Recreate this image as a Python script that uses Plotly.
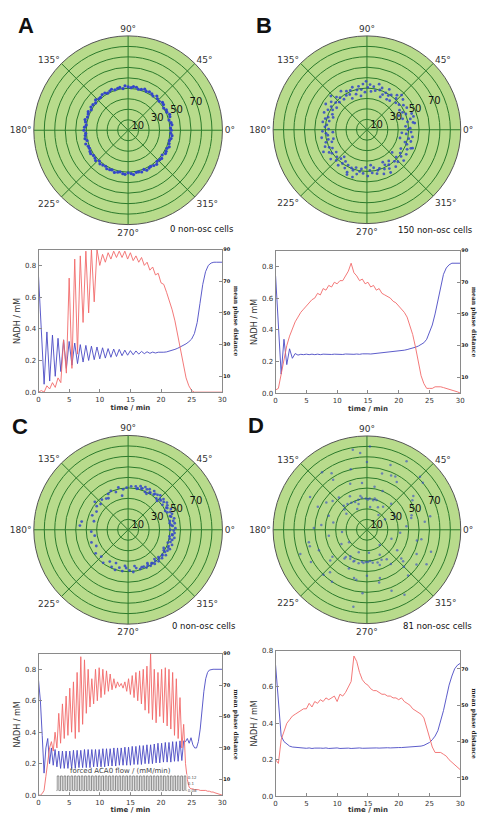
import numpy as np
import plotly.graph_objects as go

W, H = 486, 814

# ---------------- polar data (phase angle in degrees, radius) ----------------
A_theta = [0, 3, 7, 10, 14, 18, 21, 25, 28, 32, 36, 39, 43, 47, 50, 54, 57, 61, 65, 68,
           72, 76, 79, 83, 86, 90, 94, 97, 101, 104, 108, 112, 115, 119, 122, 126, 130, 133, 137, 140,
           144, 148, 151, 155, 158, 162, 166, 169, 173, 176, 180, 184, 187, 191, 194, 198, 202, 205, 209, 212,
           216, 220, 223, 227, 230, 234, 238, 241, 245, 248, 252, 256, 259, 263, 266, 270, 274, 277, 281, 284,
           288, 292, 295, 299, 302, 306, 310, 313, 317, 320, 324, 328, 331, 335, 338, 342, 346, 349, 353, 356]
A_r = [41.2, 40.5, 42.1, 41.6, 40.2, 41.9, 42.4, 40.8, 41.3, 40.0,
       41.7, 42.2, 40.6, 41.1, 42.6, 40.4, 41.5, 41.9, 40.9, 42.3,
       41.0, 40.3, 41.8, 42.0, 40.7, 41.4, 42.5, 40.1, 41.6, 41.2,
       40.6, 42.2, 41.3, 40.4, 41.9, 42.1, 40.9, 41.0, 42.4, 40.5,
       41.5, 41.8, 40.2, 42.0, 41.1, 40.8, 42.3, 41.4, 40.3, 41.7,
       42.2, 40.6, 41.2, 41.9, 40.4, 42.5, 41.0, 40.7, 41.6, 42.1,
       40.9, 41.3, 42.4, 40.2, 41.8, 41.1, 40.5, 42.0, 41.5, 40.8,
       42.3, 41.2, 40.4, 41.7, 42.2, 40.6, 41.4, 42.6, 40.9, 41.0,
       41.9, 40.3, 42.1, 41.3, 40.7, 41.6, 42.4, 40.5, 41.2, 41.8,
       40.2, 42.0, 41.5, 40.9, 42.3, 41.1, 40.6, 41.7, 42.2, 40.8]

B_theta = [2, 5, 9, 11, 14, 17, 20, 22, 26, 29,
           31, 34, 38, 40, 43, 47, 49, 52, 55, 58,
           61, 63, 66, 70, 72, 75, 78, 81, 84, 86,
           89, 93, 95, 98, 101, 104, 107, 109, 113, 116,
           118, 121, 124, 127, 130, 133, 135, 139, 142, 144,
           147, 150, 153, 156, 158, 162, 165, 167, 170, 173,
           176, 179, 182, 185, 188, 190, 194, 197, 199, 202,
           205, 208, 211, 214, 216, 219, 222, 225, 228, 231,
           234, 236, 240, 242, 245, 248, 251, 254, 257, 260,
           262, 265, 268, 271, 274, 277, 280, 283, 285, 288,
           291, 294, 297, 300, 302, 305, 308, 311, 314, 317,
           320, 322, 325, 328, 331, 334, 337, 340, 342, 345,
           348, 351, 354, 357, 0, 8, 24, 45, 68, 91,
           115, 137, 160, 184, 207, 230, 253, 276, 299, 318,
           338, 355, 16, 57, 100, 148, 195, 246, 296, 346]
B_r = [41.5, 37.2, 44.8, 39.6, 42.9, 35.8, 45.6, 40.3, 38.1, 43.7,
       36.5, 42.2, 39.0, 45.1, 37.8, 41.0, 43.9, 35.4, 40.7, 38.6,
       44.2, 39.8, 36.9, 42.6, 40.1, 45.3, 38.3, 41.8, 37.0, 43.4,
       40.6, 36.1, 44.0, 38.9, 42.4, 39.3, 35.7, 43.1, 40.9, 37.6,
       41.9, 38.4, 44.6, 36.6, 40.2, 42.8, 37.4, 39.7, 43.5, 35.9,
       40.8, 38.0, 42.0, 36.3, 44.3, 39.1, 41.4, 37.1, 43.0, 38.7,
       40.4, 36.8, 42.7, 39.4, 37.9, 44.1, 38.2, 41.2, 35.6, 43.3,
       39.9, 37.5, 42.3, 40.5, 36.4, 44.7, 38.8, 41.6, 37.3, 43.8,
       40.0, 36.7, 42.5, 38.5, 45.0, 39.5, 41.1, 37.7, 43.6, 40.6,
       38.0, 42.1, 36.2, 44.4, 39.2, 41.7, 37.0, 43.2, 40.3, 38.9,
       45.4, 41.3, 37.8, 43.0, 39.6, 36.5, 44.9, 40.1, 42.7, 38.4,
       46.0, 41.5, 39.0, 44.5, 37.2, 42.9, 45.7, 40.8, 38.3, 43.6,
       41.0, 44.2, 37.9, 42.4, 39.3, 46.3, 33.5, 47.0, 34.0, 46.5,
       33.2, 47.3, 34.5, 32.8, 46.8, 33.9, 47.5, 34.2, 46.9, 32.5,
       47.2, 33.6, 46.4, 34.8, 32.9, 46.6, 33.3, 47.1, 34.6, 32.7]

C_theta = [80, 77, 74, 71, 68, 65, 62, 59, 56, 53,
           50, 47, 44, 41, 38, 35, 32, 29, 26, 23,
           20, 17, 14, 11, 8, 5, 2, 359, 356, 353,
           350, 347, 344, 341, 338, 335, 332, 329, 326, 323,
           320, 317, 314, 311, 308, 305, 302, 299, 296, 293,
           78, 72, 66, 60, 54, 48, 42, 36, 30, 24,
           18, 12, 6, 0, 354, 348, 342, 336, 330, 324,
           318, 312, 306, 300, 63, 45, 27, 9, 351, 333,
           86, 92, 97, 103, 108, 114, 119, 125, 131, 137,
           143, 150, 158, 166, 175, 183, 190, 199, 207, 216,
           225, 233, 240, 246, 252, 257, 262, 267, 272, 277,
           282, 287, 290, 100, 122, 140, 250, 265, 280, 170]
C_r = [42.0, 40.5, 43.2, 41.8, 44.0, 42.6, 43.8, 41.2, 44.5, 42.9,
       43.6, 45.0, 42.3, 44.7, 43.1, 45.2, 44.1, 42.8, 45.4, 43.7,
       44.6, 42.9, 45.3, 43.8, 44.9, 42.7, 45.1, 43.5, 44.4, 42.6,
       44.8, 43.2, 42.0, 44.3, 41.6, 43.9, 42.5, 41.0, 43.4, 40.8,
       42.2, 40.4, 41.9, 39.6, 41.3, 39.0, 40.6, 38.7, 40.1, 38.2,
       40.0, 41.1, 39.5, 40.8, 41.6, 40.2, 41.9, 40.5, 42.1, 41.0,
       42.0, 40.7, 41.4, 40.1, 42.2, 40.6, 39.8, 41.7, 39.3, 40.4,
       38.9, 37.6, 39.4, 36.8, 38.5, 39.0, 39.7, 40.2, 39.9, 38.1,
       41.6, 40.2, 38.9, 41.4, 37.8, 40.6, 39.1, 36.4, 38.2, 35.9,
       37.5, 34.8, 36.9, 33.6, 46.2, 35.2, 32.4, 37.0, 34.1, 38.3,
       36.2, 39.5, 35.0, 38.7, 40.3, 37.1, 39.8, 36.5, 38.9, 40.6,
       37.4, 39.2, 38.0, 33.0, 35.5, 41.5, 33.8, 34.6, 35.2, 45.0]

D_theta = [5, 18, 33, 47, 62, 76, 88, 101, 117, 131,
           146, 160, 174, 189, 203, 218, 232, 247, 261, 276,
           290, 305, 319, 334, 348, 12, 40, 70, 95, 124,
           150, 196, 226, 255, 283, 312, 341, 25, 55, 82,
           108, 138, 168, 209, 238, 268, 297, 326, 355, 64,
           85, 92, 99, 106, 113, 120, 127, 134, 72, 78,
           240, 248, 256, 264, 272, 280, 288, 296, 304, 232,
           30, 52, 115, 142, 185, 215, 250, 275, 310, 340,
           88, 60, 45, 100, 128, 200, 260, 300, 330, 15,
           80, 96, 110, 68, 140, 220, 245, 270, 285, 320,
           36, 58, 75, 155, 178, 192, 229, 258, 315, 350,
           90, 105, 122, 66, 210, 236, 266, 292, 325, 8]
D_r = [38, 45, 52, 34, 58, 31, 29, 33, 36, 41,
       47, 39, 44, 37, 50, 42, 35, 33, 31, 30,
       36, 40, 46, 53, 49, 62, 70, 66, 74, 58,
       63, 57, 60, 48, 52, 59, 65, 30, 27, 22,
       26, 29, 33, 28, 30, 31, 27, 35, 32, 24,
       30, 30, 31, 30, 29, 30, 31, 32, 30, 29,
       32, 32, 33, 32, 31, 32, 33, 32, 34, 33,
       20, 18, 22, 25, 24, 21, 23, 22, 19, 25,
       80, 76, 72, 78, 70, 68, 75, 72, 66, 44,
       42, 45, 47, 40, 43, 46, 41, 44, 48, 43,
       55, 54, 56, 52, 51, 57, 54, 49, 50, 53,
       65, 60, 64, 57, 62, 60, 61, 63, 58, 56]

NON_OSC = ["0 non-osc cells", "150 non-osc cells", "0 non-osc cells", "81 non-osc cells"]
PANEL_LETTERS = ["A", "B", "C", "D"]

ANG_TICKS = [0, 45, 90, 135, 180, 225, 270, 315]
ANG_LABELS = ["0°", "45°", "90°", "135°", "180°", "225°", "270°", "315°"]
R_GRID = [10, 20, 30, 40, 50, 60, 70, 80]
R_LABEL_VALS = [10, 30, 50, 70]
R_LABEL_TEXT = ["10", "30", "50", "70"]
R_LABEL_ANGLE = 22.5

# ---------------- time series (samples evenly spread over 0..30 min) ----------------
A_nadh = [0.73, 0.35, 0.05, 0.38, 0.07, 0.36, 0.10, 0.34, 0.13, 0.33,
          0.15, 0.32, 0.17, 0.31, 0.18, 0.30, 0.19, 0.295, 0.20, 0.29,
          0.205, 0.285, 0.21, 0.28, 0.215, 0.275, 0.22, 0.272, 0.225, 0.27,
          0.23, 0.265, 0.233, 0.262, 0.236, 0.26, 0.24, 0.257, 0.243, 0.255,
          0.245, 0.253, 0.247, 0.252, 0.25, 0.252, 0.254, 0.258, 0.263, 0.27,
          0.277, 0.285, 0.295, 0.305, 0.318, 0.335, 0.37, 0.44, 0.56, 0.68,
          0.76, 0.80, 0.815, 0.82, 0.82, 0.82, 0.82]
A_dist = [0, 1, 0, 4, 2, 6, 3, 9, 6, 33,
          12, 72, 15, 84, 24, 86, 44, 89, 50, 90,
          57, 90, 80, 87, 82, 88, 84, 89, 85, 89,
          85, 89, 84, 88, 83, 86, 82, 85, 80, 82,
          77, 79, 74, 75, 69, 68, 63, 58, 52, 45,
          36, 27, 17, 9, 4, 1, 0, 0, 0, 0,
          0, 0, 0, 0, 0, 0, 0]

B_nadh = [0.74, 0.45, 0.12, 0.34, 0.18, 0.28, 0.22, 0.25, 0.24, 0.245,
          0.243, 0.246, 0.243, 0.246, 0.243, 0.246, 0.243, 0.246, 0.244, 0.246,
          0.244, 0.246, 0.244, 0.246, 0.244, 0.247, 0.245, 0.247, 0.245, 0.247,
          0.245, 0.248, 0.246, 0.248, 0.247, 0.249, 0.248, 0.25, 0.251, 0.253,
          0.255, 0.257, 0.259, 0.261, 0.265, 0.268, 0.271, 0.275, 0.279, 0.284,
          0.29, 0.297, 0.305, 0.318, 0.34, 0.38, 0.43, 0.50, 0.59, 0.66,
          0.75, 0.79, 0.81, 0.82, 0.82, 0.82, 0.82]
B_dist = [2, 3, 12, 22, 30, 36, 41, 45, 48, 51,
          53, 55, 57, 59, 60, 63, 62, 66, 65, 68,
          67, 70, 69, 71, 71, 74, 77, 82, 76, 74,
          71, 72, 69, 70, 67, 68, 65, 66, 63, 62,
          61, 60, 58, 57, 55, 53, 51, 48, 43, 37,
          29, 19, 11, 6, 3, 3, 3, 4, 4, 4,
          3.5, 3, 2.5, 2, 1.5, 0.8, 0]

C_nadh = [0.73, 0.60, 0.38, 0.14, 0.30, 0.36, 0.20, 0.30, 0.19, 0.29,
          0.18, 0.28, 0.17, 0.28, 0.17, 0.28, 0.17, 0.28, 0.17, 0.285,
          0.17, 0.285, 0.175, 0.285, 0.175, 0.29, 0.175, 0.29, 0.175, 0.29,
          0.18, 0.29, 0.18, 0.29, 0.18, 0.295, 0.18, 0.295, 0.185, 0.295,
          0.185, 0.30, 0.185, 0.30, 0.19, 0.30, 0.19, 0.305, 0.19, 0.305,
          0.19, 0.31, 0.195, 0.31, 0.195, 0.315, 0.195, 0.315, 0.20, 0.32,
          0.20, 0.32, 0.20, 0.325, 0.205, 0.33, 0.205, 0.33, 0.21, 0.335,
          0.21, 0.335, 0.21, 0.34, 0.215, 0.34, 0.215, 0.345, 0.22, 0.345,
          0.34, 0.36, 0.33, 0.365, 0.32, 0.30, 0.30, 0.34, 0.42, 0.55,
          0.66, 0.74, 0.78, 0.795, 0.80, 0.80, 0.80, 0.80, 0.80, 0.80,
          0.80]
C_dist = [0, 0, 1, 3, 12, 22, 30, 34, 28, 40,
          30, 52, 33, 58, 36, 63, 38, 68, 40, 72,
          36, 78, 40, 88, 45, 86, 52, 80, 56, 74,
          58, 80, 60, 81, 62, 80, 64, 79, 66, 77,
          67, 74, 68, 72, 69, 71, 68, 72, 66, 74,
          64, 76, 62, 78, 60, 79, 58, 80, 54, 82,
          52, 90, 48, 80, 46, 78, 50, 80, 46, 81,
          44, 80, 42, 78, 38, 74, 36, 62, 30, 45,
          20, 10, 5, 4, 4, 3.5, 3.5, 3.5, 3, 3,
          3, 3, 2.5, 2.5, 2, 2, 1.5, 1, 1, 0.5,
          0]
C_flow = [0.08, 0.125, 0.08, 0.125, 0.08, 0.125, 0.08, 0.125, 0.08, 0.125,
          0.08, 0.125, 0.08, 0.125, 0.08, 0.125, 0.08, 0.125, 0.08, 0.125,
          0.08, 0.125, 0.08, 0.125, 0.08, 0.125, 0.08, 0.125, 0.08, 0.125,
          0.08, 0.125, 0.08, 0.125, 0.08, 0.125, 0.08, 0.125, 0.08, 0.125,
          0.08, 0.125, 0.08, 0.125, 0.08, 0.125, 0.08, 0.125, 0.08, 0.125,
          0.08, 0.125, 0.08, 0.125, 0.08, 0.125, 0.08, 0.125, 0.08, 0.125,
          0.08, 0.125, 0.08, 0.125, 0.08, 0.125, 0.08, 0.125, 0.08, 0.125,
          0.08, 0.125, 0.08, 0.125, 0.08, 0.125, 0.08]
C_FLOW_START, C_FLOW_END = 2.9, 24.2
FLOW_TICKS = [0.08, 0.10, 0.12]
FLOW_LABELS = ["0.08", "0.1", "0.12"]

D_nadh = [0.72, 0.52, 0.33, 0.30, 0.285, 0.275, 0.27, 0.268, 0.266, 0.265,
          0.264, 0.263, 0.265, 0.262, 0.264, 0.262, 0.264, 0.263, 0.265, 0.262,
          0.264, 0.263, 0.265, 0.262, 0.264, 0.263, 0.264, 0.262, 0.264, 0.263,
          0.265, 0.263, 0.264, 0.263, 0.265, 0.264, 0.265, 0.264, 0.266, 0.265,
          0.266, 0.265, 0.267, 0.266, 0.267, 0.267, 0.268, 0.268, 0.269, 0.27,
          0.271, 0.273, 0.275, 0.279, 0.285, 0.295, 0.31, 0.33, 0.36, 0.41,
          0.47, 0.54, 0.61, 0.66, 0.70, 0.72, 0.73]
D_dist = [20, 18, 31, 36, 40, 42, 44, 45, 46, 47,
          48, 48, 51, 49, 52, 51, 53, 52, 54, 53,
          54, 55, 52, 56, 55, 57, 60, 63, 77, 74,
          68, 64, 62, 61, 59, 58, 58, 57, 56, 56,
          55, 55, 54, 54, 53, 54, 52, 51, 50, 48,
          47, 46, 45, 43, 38, 32, 27, 24, 24, 24,
          23, 22, 20, 18.5, 17, 15.5, 14.5]

X_TICKS = [0, 5, 10, 15, 20, 25, 30]
Y_TICKS = [0.0, 0.2, 0.4, 0.6, 0.8]
Y_LABELS = ["0.0", "0.2", "0.4", "0.6", "0.8"]
R9_TICKS = [10, 30, 50, 70, 90]
R8_TICKS = [10, 30, 50, 70]

# ---------------- styles ----------------
POLAR_BG = "#b8db8c"
GRID = "#2b7a2b"
PT_BLUE = "#3346c8"
LINE_BLUE = "#4a4ac4"
LINE_RED = "#f26a6a"
AX = "#8a8a8a"
TXT = "#333333"
FONT = "DejaVu Sans"


def px_x(x):
    return x / W


def px_y(y):
    return 1 - y / H


def sq_domain(cx, cy, r):
    return dict(x=[px_x(cx - r), px_x(cx + r)], y=[px_y(cy + r), px_y(cy - r)])


def polar_cfg(cx, cy, r):
    return dict(
        domain=sq_domain(cx, cy, r),
        bgcolor=POLAR_BG,
        angularaxis=dict(tickvals=ANG_TICKS, ticktext=ANG_LABELS, direction="counterclockwise",
                         rotation=0, showline=True, linecolor="#555", linewidth=1,
                         gridcolor=GRID, gridwidth=1, ticks="",
                         tickfont=dict(size=9, color=TXT, family=FONT)),
        radialaxis=dict(range=[0, 90], tickvals=R_GRID, showticklabels=False, angle=22.5,
                        showline=False, ticks="", gridcolor=GRID, gridwidth=1),
    )


fig = go.Figure()

polar_sets = [(A_theta, A_r, 3.2, 1.0), (B_theta, B_r, 2.8, 0.85), (C_theta, C_r, 2.8, 0.85), (D_theta, D_r, 2.5, 0.6)]
polar_names = ["polar", "polar2", "polar3", "polar4"]
for (th, rr, sz, op), nm in zip(polar_sets, polar_names):
    fig.add_trace(go.Scatterpolar(theta=th, r=rr, mode="markers", subplot=nm,
                                  marker=dict(size=sz, color=PT_BLUE, opacity=op, line=dict(width=0)),
                                  showlegend=False, hoverinfo="skip"))
    # radial tick labels, centred on the 22.5° direction (matplotlib style)
    fig.add_trace(go.Scatterpolar(theta=[R_LABEL_ANGLE] * len(R_LABEL_VALS), r=R_LABEL_VALS,
                                  mode="text", text=R_LABEL_TEXT, textposition="middle center",
                                  textfont=dict(size=10, color="#111", family=FONT), subplot=nm,
                                  showlegend=False, hoverinfo="skip"))

series = [(A_nadh, A_dist), (B_nadh, B_dist), (C_nadh, C_dist), (D_nadh, D_dist)]
for k, (nadh, dist) in enumerate(series):
    xa = "x" if k == 0 else f"x{k+1}"
    yl = "y" if k == 0 else f"y{2*k+1}"
    yr = f"y{2*k+2}"
    t = np.linspace(0, 30, len(nadh))
    t2 = np.linspace(0, 30, len(dist))
    fig.add_trace(go.Scatter(x=t2, y=dist, xaxis=xa, yaxis=yr, mode="lines",
                             line=dict(color=LINE_RED, width=0.9), showlegend=False, hoverinfo="skip"))
    fig.add_trace(go.Scatter(x=t, y=nadh, xaxis=xa, yaxis=yl, mode="lines",
                             line=dict(color=LINE_BLUE, width=0.9), showlegend=False, hoverinfo="skip"))

# forced flow inset in panel C
tf = np.linspace(C_FLOW_START, C_FLOW_END, len(C_flow))
fig.add_trace(go.Scatter(x=tf, y=C_flow, xaxis="x5", yaxis="y9", mode="lines", line_shape="hvh",
                         line=dict(color="#6e6e6e", width=0.8), showlegend=False, hoverinfo="skip"))

# ---------------- layout ----------------
layout = dict(width=W, height=H, margin=dict(l=0, r=0, t=0, b=0), paper_bgcolor="white",
              plot_bgcolor="white", font=dict(family=FONT, color=TXT), showlegend=False)

polar_geom = [(127.7, 127.5, 95.5), (369.5, 127.0, 95.0), (127.7, 531.0, 95.5), (369.5, 531.0, 95.0)]
for nm, (cx, cy, r) in zip(polar_names, polar_geom):
    layout[nm] = polar_cfg(cx, cy, r)

# plot boxes: (left, right, top, bottom) in px and right-axis max
boxes = [(37, 223, 248, 392, 0.9, 90, R9_TICKS),
         (277, 464, 249, 393, 0.9, 90, R9_TICKS),
         (37, 223, 656, 799, 0.9, 90, R9_TICKS),
         (277, 464, 653, 800, 0.8, 80, R8_TICKS)]
annotations = []
for k, (l, r, t, b, ymax, rmax, rticks) in enumerate(boxes):
    xn = "xaxis" if k == 0 else f"xaxis{k+1}"
    yln = "yaxis" if k == 0 else f"yaxis{2*k+1}"
    yrn = f"yaxis{2*k+2}"
    yl_id = "y" if k == 0 else f"y{2*k+1}"
    x_id = "x" if k == 0 else f"x{k+1}"
    layout[xn] = dict(domain=[px_x(l), px_x(r)], anchor=yl_id, range=[0, 30], tickvals=X_TICKS,
                      showline=True, mirror=True, linecolor=AX, linewidth=1, ticks="inside",
                      ticklen=3, tickcolor=AX, showgrid=False, zeroline=False,
                      tickfont=dict(size=7, color=TXT),
                      title=dict(text="time / min", font=dict(size=7, color=TXT, weight="bold"), standoff=0))
    layout[yln] = dict(domain=[px_y(b), px_y(t)], anchor=x_id, range=[0, ymax], tickvals=Y_TICKS,
                       ticktext=Y_LABELS, showline=True, mirror=True, linecolor=AX, linewidth=1,
                       ticks="inside", ticklen=3, tickcolor=AX, showgrid=False, zeroline=False,
                       tickfont=dict(size=7, color=TXT),
                       title=dict(text="NADH / mM", font=dict(size=8, color=TXT), standoff=3))
    layout[yrn] = dict(overlaying=yl_id, side="right", anchor=x_id, range=[0, rmax], tickvals=rticks,
                       showline=False, ticks="inside", ticklen=3, tickcolor=AX, showgrid=False,
                       zeroline=False, tickfont=dict(size=5, color="#222", weight="bold"))
    annotations.append(dict(text="mean phase distance", textangle=90, xref="paper", yref="paper",
                            x=px_x(r + 14), y=px_y((t + b) / 2), showarrow=False,
                            xanchor="center", yanchor="middle",
                            font=dict(size=6, color="#222", family="DejaVu Serif", weight="bold")))

# inset axes for forced flow (panel C)
layout["xaxis5"] = dict(domain=[px_x(37 + C_FLOW_START * 6.2), px_x(37 + C_FLOW_END * 6.2)], anchor="y9",
                        range=[C_FLOW_START, C_FLOW_END], visible=False)
layout["yaxis9"] = dict(domain=[px_y(796), px_y(778)], anchor="x5", range=[0.075, 0.13], side="right",
                        tickvals=FLOW_TICKS, ticktext=FLOW_LABELS, showline=False, showgrid=False,
                        zeroline=False, ticks="", tickfont=dict(size=4, color="#555"))
annotations.append(dict(text="forced ACA0 flow / (mM/min)", xref="paper", yref="paper",
                        x=px_x(120), y=px_y(775), showarrow=False, xanchor="center", yanchor="middle",
                        font=dict(size=7, color="#444")))

# panel letters and cell counts
letter_pos = [(24, 22), (265, 22), (18, 427), (257, 426)]
for letter, (x, y) in zip(PANEL_LETTERS, letter_pos):
    annotations.append(dict(text=f"<b>{letter}</b>", xref="paper", yref="paper", x=px_x(x), y=px_y(y),
                            xanchor="center", yanchor="middle",
                            showarrow=False, font=dict(size=22, color="#111", family="Liberation Sans")))
count_pos = [(168, 227), (399, 228), (170, 628), (404, 628)]
for txt, (x, y) in zip(NON_OSC, count_pos):
    annotations.append(dict(text=txt, xref="paper", yref="paper", x=px_x(x), y=px_y(y), xanchor="left",
                            yanchor="middle",
                            showarrow=False, font=dict(size=8.5, color="#111", family=FONT)))

layout["annotations"] = annotations
fig.update_layout(**layout)
fig.write_html("out.html", config={"displayModeBar": False, "staticPlot": True},
               post_script="document.body.style.margin='0';document.body.style.padding='0';"
                           "document.body.style.overflow='hidden';")
